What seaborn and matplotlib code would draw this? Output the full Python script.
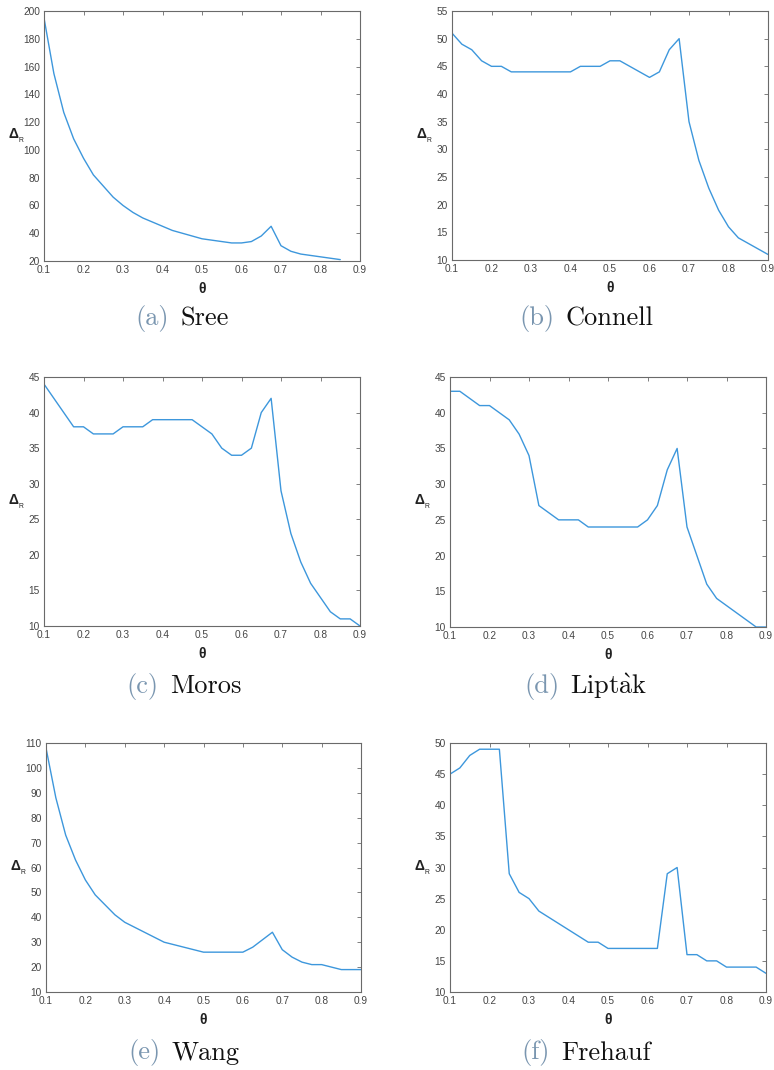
import matplotlib
matplotlib.use("Agg")
import matplotlib.pyplot as plt
import seaborn as sns
import pandas as pd

# ---------------- data ----------------
theta = [0.1, 0.125, 0.15, 0.175, 0.2, 0.225, 0.25, 0.275, 0.3, 0.325, 0.35,
         0.375, 0.4, 0.425, 0.45, 0.475, 0.5, 0.525, 0.55, 0.575, 0.6, 0.625,
         0.65, 0.675, 0.7, 0.725, 0.75, 0.775, 0.8, 0.825, 0.85, 0.875, 0.9]

sree = [195, 155, 127, 108, 94, 82, 74, 66, 60, 55, 51, 48, 45, 42, 40, 38,
        36, 35, 34, 33, 33, 34, 38, 45, 31, 27, 25, 24, 23, 22, 21]
connell = [51, 49, 48, 46, 45, 45, 44, 44, 44, 44, 44, 44, 44, 45, 45, 45,
           46, 46, 45, 44, 43, 44, 48, 50, 35, 28, 23, 19, 16, 14, 13, 12, 11]
moros = [44, 42, 40, 38, 38, 37, 37, 37, 38, 38, 38, 39, 39, 39, 39, 39,
         38, 37, 35, 34, 34, 35, 40, 42, 29, 23, 19, 16, 14, 12, 11, 11, 10]
liptak = [43, 43, 42, 41, 41, 40, 39, 37, 34, 27, 26, 25, 25, 25, 24, 24,
          24, 24, 24, 24, 25, 27, 32, 35, 24, 20, 16, 14, 13, 12, 11, 10, 10]
wang = [108, 88, 73, 63, 55, 49, 45, 41, 38, 36, 34, 32, 30, 29, 28, 27,
        26, 26, 26, 26, 26, 28, 31, 34, 27, 24, 22, 21, 21, 20, 19, 19, 19]
frehauf = [45, 46, 48, 49, 49, 49, 29, 26, 25, 23, 22, 21, 20, 19, 18, 18,
           17, 17, 17, 17, 17, 17, 29, 30, 16, 16, 15, 15, 14, 14, 14, 14, 13]

captions_tag = ["(a)", "(b)", "(c)", "(d)", "(e)", "(f)"]
captions_name = ["Sree", "Connell", "Moros", r"Lipt$\mathrm{\grave{a}}$k", "Wang", "Frehauf"]
series = [sree, connell, moros, liptak, wang, frehauf]
y_limits = [(20, 200), (10, 55), (10, 45), (10, 45), (10, 110), (10, 50)]
y_steps = [20, 5, 5, 5, 10, 5]
x_ticks = [0.1, 0.2, 0.3, 0.4, 0.5, 0.6, 0.7, 0.8, 0.9]

# ---------------- style ----------------
sns.set_theme(style="white")
plt.rcParams["font.family"] = ["Liberation Sans", "DejaVu Sans"]
plt.rcParams["mathtext.fontset"] = "custom"
plt.rcParams["mathtext.rm"] = "Liberation Sans"
plt.rcParams["mathtext.bf"] = "Liberation Sans:bold"

W, H = 774, 1070
fig = plt.figure(figsize=(W / 100, H / 100), dpi=100)
fig.patch.set_facecolor("white")

# axes boxes in pixels: left, top, right, bottom
boxes = [(44, 11, 360, 261), (452, 11, 768, 260),
         (44, 377, 360, 626), (450, 377, 766, 627),
         (46, 743, 361, 992), (450, 743, 766, 992)]
cap_pos = [(182, 319), (586, 319), (184, 686), (586, 686), (184, 1053), (586, 1053)]

line_color = "#3d97dc"
spine_color = "#6a6a6a"
label_color = "#454545"
cap_family = ["cmr10", "DejaVu Serif"]
cap_gap = 11  # px between tag and name

for i, (vals, box) in enumerate(zip(series, boxes)):
    l, t, r, b = box
    ax = fig.add_axes([l / W, 1 - b / H, (r - l) / W, (b - t) / H])
    df = pd.DataFrame({"theta": theta[:len(vals)], "delta": vals})
    sns.lineplot(data=df, x="theta", y="delta", ax=ax, color=line_color,
                 linewidth=1.0, legend=False)
    ax.set_xlim(0.1, 0.9)
    lo, hi = y_limits[i]
    ax.set_ylim(lo, hi)
    ax.set_xticks(x_ticks)
    ax.set_xticklabels([f"{v:g}" for v in x_ticks])
    yt = list(range(lo, hi + 1, y_steps[i]))
    ax.set_yticks(yt)
    ax.set_yticklabels([str(v) for v in yt])
    ax.tick_params(direction="in", top=True, right=True, length=3, width=0.6,
                   color=spine_color, labelcolor=label_color, labelsize=7.3,
                   pad=3)
    for s in ax.spines.values():
        s.set_color(spine_color)
        s.set_linewidth(0.8)
    ax.set_xlabel(r"$\mathbf{\theta}$", fontsize=10, color="#222222")
    ax.xaxis.set_label_coords(0.5, -0.08)
    ax.set_ylabel(r"$\mathbf{\Delta}_{_\mathrm{R}}$", fontsize=10,
                  color="#222222", rotation=0, ha="right", va="center")
    ax.yaxis.set_label_coords(-0.062, 0.5)
    ax.grid(False)

# captions: tag (grey-blue) + name (black), centred as a unit
renderer = fig.canvas.get_renderer()
for i in range(len(series)):
    cx, cy = cap_pos[i]
    t1 = fig.text(0, 1 - cy / H, captions_tag[i], ha="left", va="center",
                  fontsize=19, family=cap_family, color="#7a96b0")
    t2 = fig.text(0, 1 - cy / H, captions_name[i], ha="left", va="center",
                  fontsize=19, family=cap_family, color="#111111",
                  math_fontfamily="cm")
    w1 = t1.get_window_extent(renderer).width
    w2 = t2.get_window_extent(renderer).width
    total = w1 + cap_gap + w2
    x0 = cx - total / 2
    t1.set_x(x0 / W)
    t2.set_x((x0 + w1 + cap_gap) / W)

fig.savefig("out.png", dpi=100, facecolor="white")
